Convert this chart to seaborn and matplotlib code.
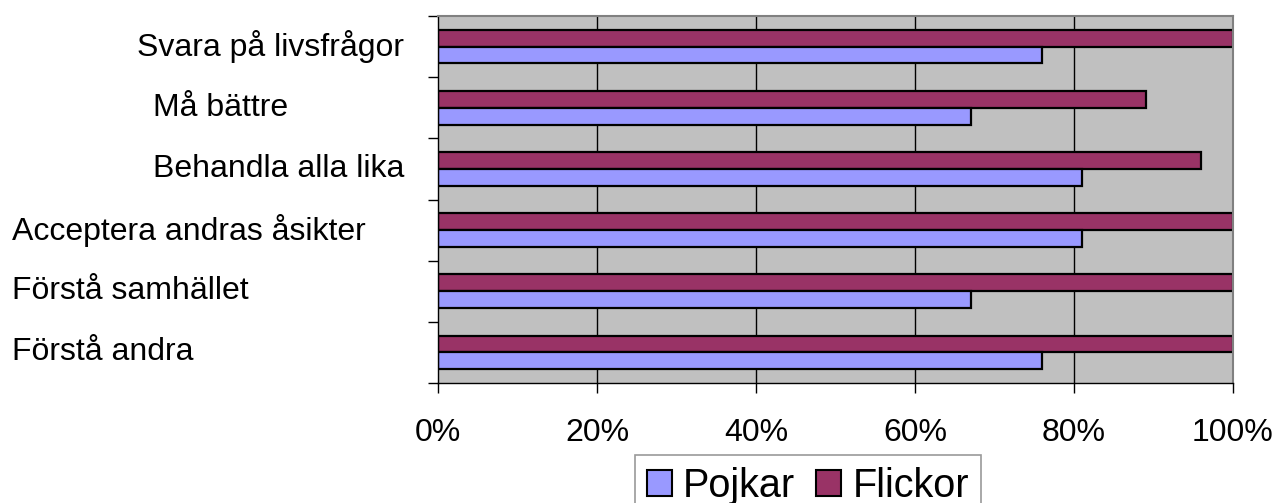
import pandas as pd
import matplotlib.pyplot as plt
import seaborn as sns
from matplotlib.patches import Patch
from matplotlib.transforms import blended_transform_factory

categories = [
    "Svara på livsfrågor",
    "Må bättre",
    "Behandla alla lika",
    "Acceptera andras åsikter",
    "Förstå samhället",
    "Förstå andra",
]
pojkar = [76, 67, 81, 81, 67, 76]
flickor = [100, 89, 96, 100, 100, 100]
x_ticks = [0, 20, 40, 60, 80, 100]
x_tick_labels = ["0%", "20%", "40%", "60%", "80%", "100%"]

colors = {"Pojkar": "#9999FF", "Flickor": "#993366"}

df = pd.DataFrame({
    "Kategori": categories * 2,
    "Grupp": ["Flickor"] * len(categories) + ["Pojkar"] * len(categories),
    "Andel": flickor + pojkar,
})

sns.set_style("white")
plt.rcParams["font.family"] = ["Liberation Sans", "DejaVu Sans"]
plt.rcParams["text.color"] = "black"
plt.rcParams["xtick.color"] = "black"
plt.rcParams["ytick.color"] = "black"

fig = plt.figure(figsize=(12.74, 5.03), dpi=100)
ax = fig.add_axes([438 / 1274, 1 - 383 / 503, (1233 - 438) / 1274, (383 - 16) / 503])
ax.set_facecolor("#C0C0C0")

sns.barplot(
    data=df, y="Kategori", x="Andel", hue="Grupp",
    hue_order=["Flickor", "Pojkar"], order=categories,
    palette=colors, orient="h", width=0.55,
    edgecolor="black", linewidth=1.6, saturation=1, legend=False, ax=ax,
)

ax.set_xlim(0, 100)
ax.set_ylim(len(categories) - 0.5, -0.5)
ax.set_xticks(x_ticks)
ax.set_xticklabels(x_tick_labels, fontsize=23)
ax.set_yticks([i - 0.5 for i in range(len(categories) + 1)])
ax.set_yticklabels([])
ax.tick_params(axis="both", direction="out", length=7, width=1, color="black",
               labelcolor="black", left=True, bottom=True)
ax.tick_params(axis="x", pad=18)
ax.set_xlabel("")
ax.set_ylabel("")

# vertical gridlines
for v in x_ticks[1:-1]:
    ax.axvline(v, color="black", linewidth=1, zorder=0.5)

for side in ["top", "right"]:
    ax.spines[side].set_color("#808080")
    ax.spines[side].set_linewidth(1.5)
for side in ["left", "bottom"]:
    ax.spines[side].set_color("black")
    ax.spines[side].set_linewidth(1)

# category labels with the original uneven placement
label_x = [137, 153, 153, 12, 12, 12]
trans = blended_transform_factory(fig.transFigure, ax.transData)
for i, (lab, lx) in enumerate(zip(categories, label_x)):
    ax.text(lx / 1274, i, lab, transform=trans, ha="left", va="center",
            fontsize=23, color="black", clip_on=False)

handles = [Patch(facecolor=colors["Pojkar"], edgecolor="black", linewidth=1.5),
           Patch(facecolor=colors["Flickor"], edgecolor="black", linewidth=1.5)]
leg = fig.legend(
    handles, ["Pojkar", "Flickor"], loc="upper center",
    bbox_to_anchor=(808 / 1274, 1 - 455 / 503), ncol=2, fontsize=28.5,
    frameon=True, fancybox=False, edgecolor="#808080",
    handlelength=0.63, handleheight=0.63, handletextpad=0.28,
    columnspacing=0.53, borderpad=0.3, borderaxespad=0,
)
leg.get_frame().set_linewidth(1.2)
for t in leg.get_texts():
    t.set_color("black")

fig.savefig("out.png", dpi=100)
